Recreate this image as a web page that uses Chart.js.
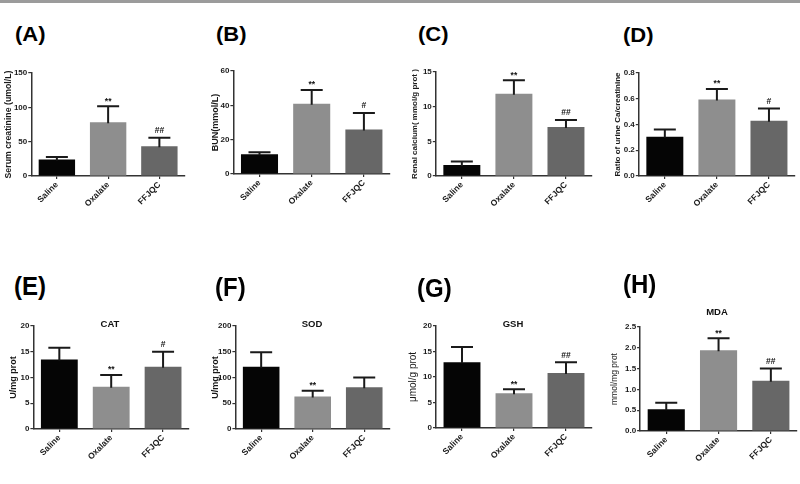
<!DOCTYPE html>
<html><head><meta charset="utf-8">
<script src="https://cdn.jsdelivr.net/npm/chart.js@4"></script>
<style>
body{margin:0;background:#fff;width:800px;height:484px;position:relative;overflow:hidden;font-family:"Liberation Sans",Arial,sans-serif}
.topband{position:absolute;left:0;top:0;width:800px;height:3px;background:#9b9b9b}
.pl{position:absolute;font-weight:bold;transform-origin:0 0;color:#000;white-space:nowrap}
.ct{position:absolute;font-weight:bold;font-size:9.5px;line-height:10px;transform:translateX(-50%);color:#111;white-space:nowrap}
canvas{position:absolute}
</style></head><body>
<div class="topband"></div>
<script>
// ---------- data ----------
const categories = ['Saline', 'Oxalate', 'FFJQC'];

const serumCreatinine    = [24.2, 78.4, 43.5];
const serumCreatinineErr = [3.4, 23.2, 12.1];
const serumCreatinineSig = ['', '**', '##'];

const bun    = [11.5, 40.9, 25.9];
const bunErr = [1.2, 8.0, 9.7];
const bunSig = ['', '**', '#'];

const renalCalcium    = [1.6, 11.85, 7.06];
const renalCalciumErr = [0.5, 1.95, 1.02];
const renalCalciumSig = ['', '**', '##'];

const caCreatRatio    = [0.305, 0.594, 0.43];
const caCreatRatioErr = [0.057, 0.081, 0.094];
const caCreatRatioSig = ['', '**', '#'];

const cat    = [13.5, 8.18, 12.08];
const catErr = [2.3, 2.32, 2.92];
const catSig = ['', '**', '#'];

const sod    = [121, 63.2, 81.3];
const sodErr = [28, 11, 18.7];
const sodSig = ['', '**', ''];

const gsh    = [12.9, 6.8, 10.8];
const gshErr = [3.0, 0.8, 2.1];
const gshSig = ['', '**', '##'];

const mda    = [0.52, 1.94, 1.21];
const mdaErr = [0.16, 0.29, 0.29];
const mdaSig = ['', '**', '##'];

const ticksA = [0, 50, 100, 150];
const ticksB = [0, 20, 40, 60];
const ticksC = [0, 5, 10, 15];
const ticksD = [0.0, 0.2, 0.4, 0.6, 0.8];
const ticksE = [0, 5, 10, 15, 20];
const ticksF = [0, 50, 100, 150, 200];
const ticksG = [0, 5, 10, 15, 20];
const ticksH = [0.0, 0.5, 1.0, 1.5, 2.0, 2.5];

// ---------- layout / styles ----------
const FONT = '"Liberation Sans", Arial, sans-serif';
const barColors = ['#050505', '#8e8e8e', '#676767'];

const panels = [
  {lab:'(A)', title:'', yTitle:'Serum creatinine (umol/L)', v:serumCreatinine, e:serumCreatinineErr, s:serumCreatinineSig, t:ticksA, dec:0, yw:'bold', ys:8.75,
   L:{x:31, top:73, zero:176, right:185, td:23}, P:{x:15, y:24.6, row:0}},
  {lab:'(B)', title:'', yTitle:'BUN(mmol/L)', v:bun, e:bunErr, s:bunSig, t:ticksB, dec:0, yw:'bold', ys:9,
   L:{x:233, top:71, zero:174, right:390, td:18}, P:{x:216, y:24.6, row:0}},
  {lab:'(C)', title:'', yTitle:'Renal calcium( mmol/g prot )', v:renalCalcium, e:renalCalciumErr, s:renalCalciumSig, t:ticksC, dec:0, yw:'bold', ys:8,
   L:{x:436, top:72, zero:176, right:592, td:21}, P:{x:418, y:25.2, row:0}},
  {lab:'(D)', title:'', yTitle:'Ratio of urine Ca/creatinine', v:caCreatRatio, e:caCreatRatioErr, s:caCreatRatioSig, t:ticksD, dec:1, yw:'bold', ys:8,
   L:{x:639, top:73, zero:176, right:795, td:21}, P:{x:623, y:25.6, row:0}},
  {lab:'(E)', title:'CAT', yTitle:'U/mg prot', v:cat, e:catErr, s:catSig, t:ticksE, dec:0, yw:'bold', ys:9,
   L:{x:33, top:326, zero:429, right:189, td:20}, P:{x:14, y:273, row:1}, T:{x:110, y:318.5}},
  {lab:'(F)', title:'SOD', yTitle:'U/mg prot', v:sod, e:sodErr, s:sodSig, t:ticksF, dec:0, yw:'bold', ys:9,
   L:{x:235, top:326, zero:429, right:390, td:20}, P:{x:215, y:274, row:1}, T:{x:312, y:318.5}},
  {lab:'(G)', title:'GSH', yTitle:'\u03bcmol/g prot', v:gsh, e:gshErr, s:gshSig, t:ticksG, dec:0, yw:'normal', ys:10,
   L:{x:436, top:326, zero:428, right:592, td:23}, P:{x:417, y:275, row:1}, T:{x:513, y:318.5}},
  {lab:'(H)', title:'MDA', yTitle:'mmol/mg prot', v:mda, e:mdaErr, s:mdaSig, t:ticksH, dec:1, yw:'normal', ys:8.5,
   L:{x:640, top:327, zero:431, right:797, td:25}, P:{x:623, y:270.5, row:1}, T:{x:717, y:306.5}}
];

Chart.defaults.font.family = FONT;

const errorBarPlugin = {
  id: 'errbars',
  afterDatasetsDraw(chart, args, opts) {
    const ctx = chart.ctx;
    const meta = chart.getDatasetMeta(0);
    const ys = chart.scales.y;
    const ds = chart.data.datasets[0];
    ctx.save();
    meta.data.forEach((bar, i) => {
      const val = ds.data[i];
      const er = opts.errors[i];
      const yTop = ys.getPixelForValue(val + er);
      const x = bar.x;
      ctx.strokeStyle = '#1a1a1a';
      ctx.lineWidth = 2;
      ctx.beginPath();
      ctx.moveTo(x, bar.y + 1);
      ctx.lineTo(x, yTop);
      ctx.moveTo(x - 11, yTop);
      ctx.lineTo(x + 11, yTop);
      ctx.stroke();
      const mk = opts.marks[i];
      if (mk) {
        ctx.fillStyle = '#111';
        ctx.font = 'bold 8.5px ' + FONT;
        ctx.textAlign = 'center';
        ctx.textBaseline = 'alphabetic';
        const off = mk.indexOf('*') >= 0 ? 2.6 : 4.5;
        ctx.fillText(mk, x, yTop - off);
      }
    });
    ctx.restore();
  }
};

const PAD_TOP = 16, X_H = 50, PAD_R = 6;

panels.forEach(p => {
  const L = p.L;
  const yTitleLH = p.ys * 1.2;
  const yWidth = L.td + yTitleLH / 2;
  const cw = Math.round(yWidth + (L.right - L.x) + PAD_R);
  const ch = Math.round(PAD_TOP + (L.zero - L.top) + X_H);
  const cv = document.createElement('canvas');
  cv.width = cw; cv.height = ch;
  cv.style.left = (L.x - yWidth) + 'px';
  cv.style.top = (L.top - PAD_TOP) + 'px';
  cv.style.width = cw + 'px'; cv.style.height = ch + 'px';
  document.body.appendChild(cv);

  const tmax = p.t[p.t.length - 1];
  const step = p.t[1] - p.t[0];

  new Chart(cv, {
    type: 'bar',
    data: {
      labels: categories,
      datasets: [{
        data: p.v,
        backgroundColor: barColors,
        borderWidth: 0,
        categoryPercentage: 1.0,
        barPercentage: 0.71
      }]
    },
    options: {
      responsive: false,
      animation: false,
      devicePixelRatio: 1,
      layout: {padding: {top: PAD_TOP, right: PAD_R, left: 0, bottom: 0}},
      plugins: {
        legend: {display: false},
        tooltip: {enabled: false},
        errbars: {errors: p.e, marks: p.s}
      },
      scales: {
        x: {
          grid: {display: true, drawOnChartArea: false, drawTicks: true, tickLength: 3, offset: false, color: '#333', lineWidth: 1.2},
          border: {display: true, color: '#333', width: 1.5},
          ticks: {autoSkip: false, minRotation: 45, maxRotation: 45, padding: 1, color: '#1a1a1a',
                  font: {size: 8.5, weight: 'bold', family: FONT}},
          afterFit: s => { s.height = X_H; }
        },
        y: {
          min: 0, max: tmax,
          grid: {display: true, drawOnChartArea: false, drawTicks: true, tickLength: 3, color: '#333', lineWidth: 1.2},
          border: {display: true, color: '#333', width: 1.5},
          ticks: {stepSize: step, padding: 1, color: '#1a1a1a',
                  font: {size: 8, weight: 'bold', family: FONT},
                  callback: v => Number(v).toFixed(p.dec)},
          title: {display: true, text: p.yTitle, color: '#1a1a1a', padding: 0,
                  font: {size: p.ys, weight: p.yw, family: FONT}},
          afterFit: s => { s.width = yWidth; }
        }
      }
    },
    plugins: [errorBarPlugin]
  });

  const lab = document.createElement('div');
  lab.className = 'pl';
  lab.textContent = p.lab;
  if (p.P.row === 0) {
    lab.style.fontSize = '22px'; lab.style.lineHeight = '22px'; lab.style.transform = 'scaleY(0.9)';
  } else {
    lab.style.fontSize = '24px'; lab.style.lineHeight = '24px'; lab.style.transform = 'scaleY(1.1)';
  }
  lab.style.left = p.P.x + 'px';
  lab.style.top = p.P.y + 'px';
  document.body.appendChild(lab);

  if (p.title) {
    const t = document.createElement('div');
    t.className = 'ct';
    t.textContent = p.title;
    t.style.left = p.T.x + 'px';
    t.style.top = p.T.y + 'px';
    document.body.appendChild(t);
  }
});
</script>
</body></html>
